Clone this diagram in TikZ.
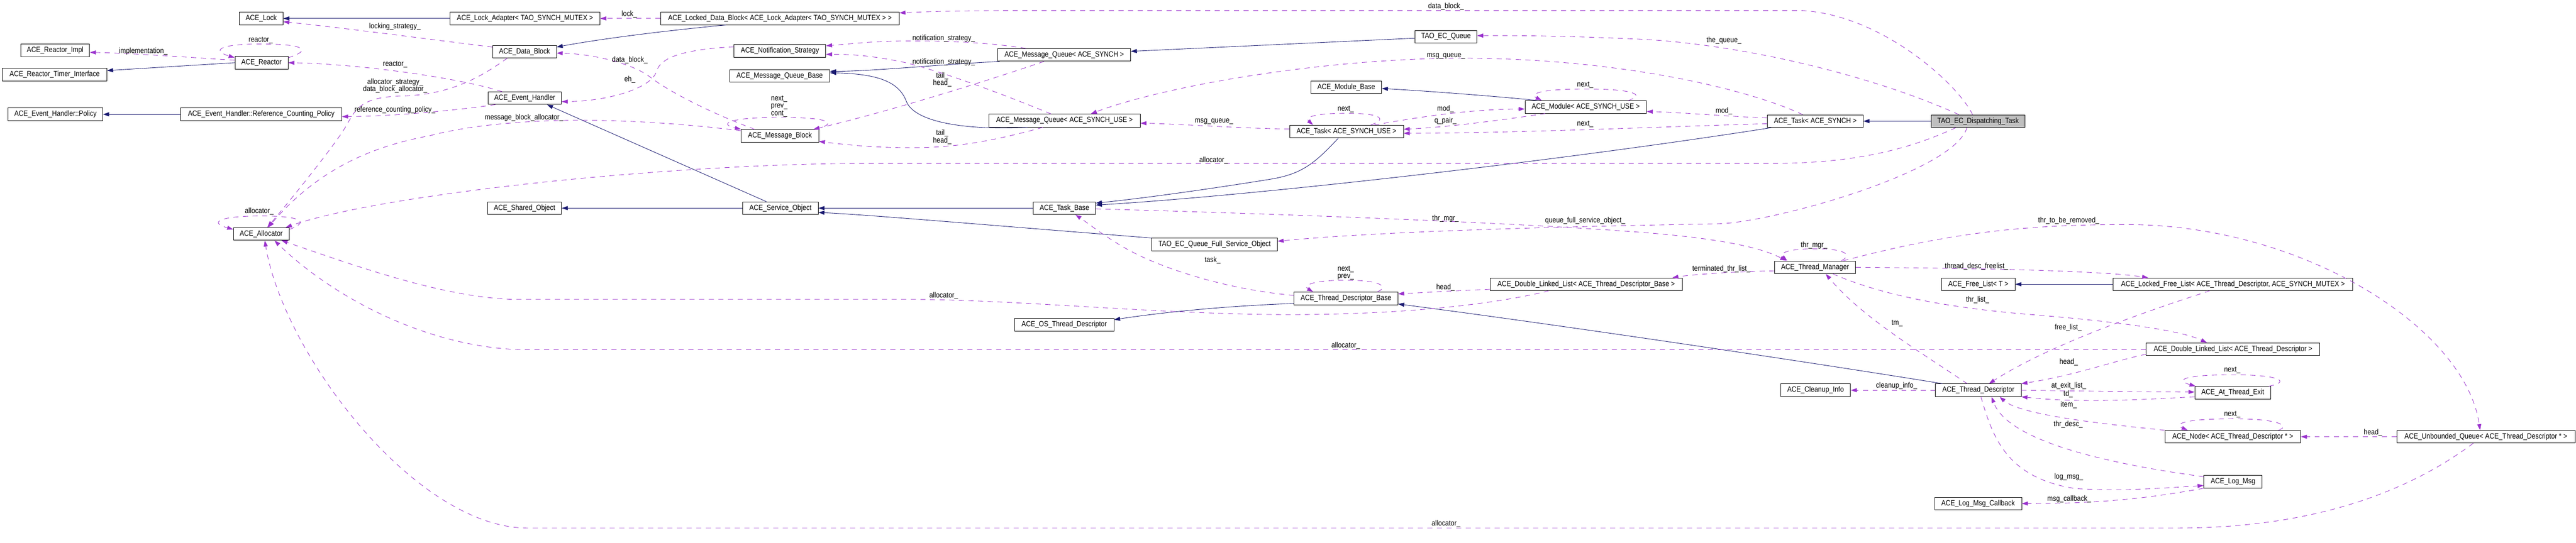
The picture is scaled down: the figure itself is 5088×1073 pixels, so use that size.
\documentclass[tikz,border=0pt]{standalone}
\usepackage{fontspec}
\setmainfont[FakeStretch=0.87]{Liberation Sans}
\usetikzlibrary{arrows.meta,calc}
\definecolor{inhcol}{HTML}{191970}
\definecolor{depcol}{HTML}{9A32CD}
\definecolor{grayfill}{HTML}{BFBFBF}
\newcommand{\dxfont}{\fontsize{15}{14.3}\selectfont}
\begin{document}
\begin{tikzpicture}[x=1pt,y=-1pt,
 cls/.style={draw=black,line width=0.9pt,minimum height=25pt,inner sep=0pt,font=\dxfont,fill=white},
 inh/.style={draw=inhcol,line width=0.9pt,-{Triangle[length=12pt,width=8pt]}},
 dep/.style={draw=depcol,line width=0.9pt,dash pattern=on 10pt off 9pt,-{Triangle[length=12pt,width=8pt]}},
 lbl/.style={inner sep=0pt,font=\dxfont,align=center}]
\useasboundingbox (0,0) rectangle (5088,1073);

% ---------- classes ----------
\node[cls,minimum width=86pt] (lock) at (516,36.5) {ACE\_Lock};
\node[cls,minimum width=136pt] (reactorimpl) at (109,99.5) {ACE\_Reactor\_Impl};
\node[cls,minimum width=105pt] (reactor) at (516.5,124) {ACE\_Reactor};
\node[cls,minimum width=206pt] (timerif) at (108,147.5) {ACE\_Reactor\_Timer\_Interface};
\node[cls,minimum width=187pt] (policy) at (109.5,226) {ACE\_Event\_Handler::Policy};
\node[cls,minimum width=318pt] (refpolicy) at (516,226) {ACE\_Event\_Handler::Reference\_Counting\_Policy};
\node[cls,minimum width=110pt] (allocator) at (516,462.5) {ACE\_Allocator};
\node[cls,minimum width=296pt] (lockadapter) at (1037,36.5) {ACE\_Lock\_Adapter< TAO\_SYNCH\_MUTEX >};
\node[cls,minimum width=471pt] (lockeddb) at (1540.5,36.5) {ACE\_Locked\_Data\_Block< ACE\_Lock\_Adapter< TAO\_SYNCH\_MUTEX > >};
\node[cls,minimum width=126pt] (datablock) at (1036,102) {ACE\_Data\_Block};
\node[cls,minimum width=181pt] (notif) at (1540.5,100.5) {ACE\_Notification\_Strategy};
\node[cls,minimum width=198pt] (mqbase) at (1540,150) {ACE\_Message\_Queue\_Base};
\node[cls,minimum width=145pt] (eh) at (1036.5,194) {ACE\_Event\_Handler};
\node[cls,minimum width=153pt] (mb) at (1540.5,268.5) {ACE\_Message\_Block};
\node[cls,minimum width=146pt] (sharedobj) at (1036,411.5) {ACE\_Shared\_Object};
\node[cls,minimum width=149pt] (serviceobj) at (1541.5,411.5) {ACE\_Service\_Object};
\node[cls,minimum width=262pt] (mqsynch) at (2102,108.5) {ACE\_Message\_Queue< ACE\_SYNCH >};
\node[cls,minimum width=299pt,minimum height=26pt] (mqsynchuse) at (2102.5,238.5) {ACE\_Message\_Queue< ACE\_SYNCH\_USE >};
\node[cls,minimum width=123pt] (taskbase) at (2102.5,411.5) {ACE\_Task\_Base};
\node[cls,minimum width=248pt] (qfso) at (2399,483.5) {TAO\_EC\_Queue\_Full\_Service\_Object};
\node[cls,minimum width=196pt] (osthreaddesc) at (2102,642) {ACE\_OS\_Thread\_Descriptor};
\node[cls,minimum width=122pt] (ecqueue) at (2856,72.5) {TAO\_EC\_Queue};
\node[cls,minimum width=140pt] (modulebase) at (2659,172.5) {ACE\_Module\_Base};
\node[cls,minimum width=240pt] (module) at (3132,211.5) {ACE\_Module< ACE\_SYNCH\_USE >};
\node[cls,minimum width=225pt] (tasksynchuse) at (2659.5,260) {ACE\_Task< ACE\_SYNCH\_USE >};
\node[cls,minimum width=205pt] (tdbase) at (2658.5,590) {ACE\_Thread\_Descriptor\_Base};
\node[cls,minimum width=380pt] (dllbase) at (3133,562) {ACE\_Double\_Linked\_List< ACE\_Thread\_Descriptor\_Base >};
\node[cls,minimum width=189pt] (tasksynch) at (3585.5,239.5) {ACE\_Task< ACE\_SYNCH >};
\node[cls,minimum width=186pt,fill=grayfill] (dispatch) at (3907,239.5) {TAO\_EC\_Dispatching\_Task};
\node[cls,minimum width=160pt] (thrmgr) at (3585,528.5) {ACE\_Thread\_Manager};
\node[cls,minimum width=145pt] (freelist) at (3907.5,562) {ACE\_Free\_List< T >};
\node[cls,minimum width=473pt] (lockedfree) at (4410.5,562) {ACE\_Locked\_Free\_List< ACE\_Thread\_Descriptor, ACE\_SYNCH\_MUTEX >};
\node[cls,minimum width=138pt] (cleanup) at (3586,771.5) {ACE\_Cleanup\_Info};
\node[cls,minimum width=169pt] (td) at (3907.5,771.5) {ACE\_Thread\_Descriptor};
\node[cls,minimum width=172pt] (logmsgcb) at (3907,995.5) {ACE\_Log\_Msg\_Callback};
\node[cls,minimum width=343pt] (dllthr) at (4410.5,690.5) {ACE\_Double\_Linked\_List< ACE\_Thread\_Descriptor >};
\node[cls,minimum width=150pt] (atexit) at (4410,776.5) {ACE\_At\_Thread\_Exit};
\node[cls,minimum width=268pt] (nodetd) at (4410,863.5) {ACE\_Node< ACE\_Thread\_Descriptor * >};
\node[cls,minimum width=352pt] (unbq) at (4910,863.5) {ACE\_Unbounded\_Queue< ACE\_Thread\_Descriptor * >};
\node[cls,minimum width=115pt] (logmsg) at (4410.5,952.5) {ACE\_Log\_Msg};

% ---------- inheritance ----------
\draw[inh] (reactor.west) -- ([yshift=8pt]timerif.east);
\draw[inh] (refpolicy.west) -- (policy.east);
\draw[inh] (lockadapter.west) -- (lock.east);
\draw[inh] ([xshift=-107pt]lockeddb.south) .. controls (1300,62) and (1180,78) .. ([yshift=9pt]datablock.east);
\draw[inh] ([xshift=4pt]mqsynch.south west) .. controls (1850,128) and (1720,141) .. ([yshift=9pt]mqbase.east);
\draw[inh] ([xshift=-73pt]mqsynchuse.south) .. controls (1900,258) and (1805,240) .. (1790,200) .. controls (1775,160) and (1730,146) .. ([yshift=6pt]mqbase.east);
\draw[inh] ([yshift=-3pt]ecqueue.west) -- ([yshift=7pt]mqsynch.east);
\draw[inh] (serviceobj.west) -- (sharedobj.east);
\draw[inh] ([xshift=-28pt]serviceobj.north) -- ([xshift=44pt]eh.south);
\draw[inh] (taskbase.west) -- (serviceobj.east);
\draw[inh] (qfso.north west) .. controls (1950,445) and (1720,425) .. ([yshift=-8.5pt]serviceobj.east);
\draw[inh] ([xshift=-16pt]tasksynchuse.south) .. controls (2595,325) and (2570,345) .. (2505,355) .. controls (2400,372) and (2260,392) .. ([yshift=10pt]taskbase.east);
\draw[inh] ([xshift=-87pt]tasksynch.south) .. controls (3100,315) and (2500,385) .. ([yshift=6pt]taskbase.east);
\draw[inh] ([xshift=-95pt]module.north) .. controls (2950,190) and (2820,180) .. ([yshift=-2.5pt]modulebase.east);
\draw[inh] (dispatch.west) -- (tasksynch.east);
\draw[inh] ([yshift=-10pt]tdbase.west) .. controls (2420,605) and (2300,617) .. ([yshift=10pt]osthreaddesc.east);
\draw[inh] ([xshift=-71pt]td.north) .. controls (3600,720) and (3100,645) .. ([yshift=-11pt]tdbase.east);
\draw[inh] (lockedfree.west) -- (freelist.east);

% ---------- usage ----------
\draw[dep] ([yshift=9pt]datablock.west) .. controls (880,82) and (680,55) .. ([yshift=-6.5pt]lock.east);
\draw[dep] ([yshift=-3pt]reactor.north east) .. controls (615,100) and (605,87) .. (516,87) .. controls (427,87) and (420,101) .. ([yshift=-3pt]reactor.north west);
\draw[dep] ([yshift=5pt]reactor.west) .. controls (380,114) and (260,105) .. ([yshift=-4pt]reactorimpl.east);
\draw[dep] ([xshift=-45pt]eh.north) .. controls (900,152) and (700,126) .. (reactor.east);
\draw[dep] ([xshift=-34pt]datablock.south) .. controls (940,160) and (880,188) .. (790,190) .. controls (705,192) and (700,223) .. (680,255) .. controls (655,295) and (570,400) .. ([xshift=12pt]allocator.north);
\draw[dep] ([yshift=-3pt]mb.north west) .. controls (1300,238) and (1150,234) .. (1040,241) .. controls (960,246) and (900,255) .. (850,268) .. controls (760,285) and (640,320) .. ([xshift=14pt]allocator.north);
\draw[dep] ([xshift=-44pt]dispatch.south) .. controls (3760,300) and (3650,323) .. (3500,323) -- (1700,323) .. controls (1300,325) and (750,385) .. ([xshift=-7pt]allocator.north east);
\draw[dep] ([yshift=-4pt]allocator.north east) .. controls (610,440) and (600,427) .. (516,427) .. controls (432,427) and (412,440) .. ([yshift=9pt]allocator.west);
\draw[dep] (lockeddb.west) -- (lockadapter.east);
\draw[dep] ([xshift=-11pt]dispatch.north) .. controls (3870,170) and (3720,30) .. (3560,21) -- (2000,21) .. controls (1900,21) and (1830,23) .. ([yshift=11pt]lockeddb.east);
\draw[dep] ([xshift=-50pt]mb.north) .. controls (1400,222) and (1320,180) .. (1285,153) .. controls (1245,122) and (1160,106) .. ([yshift=-3pt]datablock.east);
\draw[dep] ([yshift=8pt]notif.west) .. controls (1345,98) and (1305,115) .. (1297,140) .. controls (1288,175) and (1200,200) .. ([yshift=-7pt]eh.east);
\draw[dep] ([xshift=-58pt]eh.south) .. controls (900,218) and (780,230) .. ([yshift=-4.5pt]refpolicy.east);
\draw[dep] ([xshift=-8pt]mb.north east) .. controls (1655,245) and (1645,232) .. (1540,232) .. controls (1435,232) and (1420,246) .. (mb.north west);
\draw[dep] ([xshift=-76pt]mqsynch.north) .. controls (1950,84) and (1880,81) .. (1800,81) .. controls (1720,81) and (1680,87) .. ([yshift=10pt]notif.east);
\draw[dep] ([xshift=-27pt]mqsynchuse.north) .. controls (1990,190) and (1860,140) .. (1780,122) .. controls (1720,110) and (1680,107) .. ([yshift=-7pt]notif.east);
\draw[dep] ([xshift=-40pt]mqsynch.south) .. controls (1950,160) and (1750,222) .. ([xshift=66pt]mb.north);
\draw[dep] ([xshift=-43pt]mqsynchuse.south) .. controls (1950,282) and (1880,292) .. (1800,292) .. controls (1720,292) and (1660,285) .. ([yshift=-11pt]mb.east);
\draw[dep] ([yshift=5pt]tasksynchuse.west) .. controls (2450,254) and (2330,245) .. ([yshift=-5pt]mqsynchuse.east);
\draw[dep] ([xshift=-25pt]tasksynch.north) .. controls (3450,175) and (3200,117) .. (2900,115) .. controls (2620,114) and (2300,170) .. ([xshift=52pt]mqsynchuse.north);
\draw[dep] ([xshift=-38pt]dispatch.north) .. controls (3700,150) and (3450,90) .. (3250,78) .. controls (3100,71) and (3000,70) .. ([yshift=2pt]ecqueue.east);
\draw[dep] ([xshift=48pt]tasksynchuse.north) .. controls (2740,236) and (2730,224) .. (2660,224) .. controls (2590,224) and (2578,233) .. ([xshift=-66pt]tasksynchuse.north);
\draw[dep] ([xshift=55pt]tasksynchuse.north) .. controls (2800,232) and (2900,216) .. ([yshift=-4pt]module.west);
\draw[dep] ([xshift=-80pt]module.south) .. controls (2950,240) and (2850,252) .. ([yshift=4.5pt]tasksynchuse.east);
\draw[dep] ([yshift=-5pt]tasksynch.west) .. controls (3300,250) and (3000,263) .. ([yshift=-3.5pt]tasksynchuse.east);
\draw[dep] ([yshift=6.5pt]tasksynch.west) .. controls (3420,231) and (3320,222) .. ([yshift=-9pt]module.east);
\draw[dep] ([xshift=84pt]module.north) .. controls (3250,188) and (3230,176) .. (3132,176) .. controls (3034,176) and (3022,187) .. ([xshift=-87pt]module.north);
\draw[dep] ([yshift=-1.5pt]taskbase.east) .. controls (2500,422) and (3000,440) .. (3250,460) .. controls (3400,472) and (3480,490) .. ([xshift=-57pt]thrmgr.north);
\draw[dep] ([xshift=-22pt]dispatch.south) .. controls (3860,340) and (3500,440.5) .. (3392,442.5) .. controls (3150,447) and (2750,455) .. ([yshift=6.5pt]qfso.east);
\draw[dep] ([xshift=-74pt]dllbase.south) .. controls (2960,600) and (2780,622) .. (2546,622) .. controls (2300,622) and (2000,592) .. (1800,592) -- (1020,592) .. controls (880,590) and (700,525) .. ([xshift=40pt]allocator.south);
\draw[dep] ([yshift=-1pt]dllthr.west) -- (1040,691.5) .. controls (850,690) and (660,590) .. ([xshift=26pt]allocator.south);
\draw[dep] ([xshift=-25pt]unbq.south) .. controls (4780,955) and (4600,1044) .. (4300,1044) -- (1040,1044) .. controls (820,1042) and (560,700) .. ([xshift=7pt]allocator.south);
\draw[dep] ([xshift=62pt]tdbase.north) .. controls (2742,568) and (2732,554) .. (2658,554) .. controls (2585,554) and (2575,566) .. ([xshift=-65pt]tdbase.north);
\draw[dep] ([yshift=6pt]tdbase.west) .. controls (2420,572) and (2300,531) .. (2238,499) .. controls (2190,474) and (2150,442) .. ([xshift=21.5pt]taskbase.south);
\draw[dep] ([yshift=-10pt]dllbase.west) .. controls (2870,575) and (2820,578) .. ([yshift=9pt]tdbase.east);
\draw[dep] ([xshift=52pt]thrmgr.north) .. controls (3657,505) and (3650,492) .. (3585,492) .. controls (3522,492) and (3515,503) .. ([xshift=-55pt]thrmgr.north);
\draw[dep] ([xshift=56pt]thrmgr.north) .. controls (3850,460) and (4000,444) .. (4200,444) .. controls (4550,444) and (4870,650) .. ([xshift=-11.5pt]unbq.north);
\draw[dep] (thrmgr.east) .. controls (3900,530) and (4150,535) .. ([xshift=-167.5pt]lockedfree.north);
\draw[dep] ([yshift=-7pt]thrmgr.west) .. controls (3420,537) and (3340,543) .. ([xshift=170pt]dllbase.north);
\draw[dep] ([xshift=35pt]thrmgr.south) .. controls (3720,585) and (3850,608) .. (4000,621) .. controls (4150,633) and (4300,650) .. ([xshift=-51.5pt]dllthr.north);
\draw[dep] ([xshift=-22pt]td.north) .. controls (3800,700) and (3680,630) .. ([xshift=21pt]thrmgr.south);
\draw[dep] ([xshift=-46pt]lockedfree.south) .. controls (4250,612) and (4050,680) .. ([xshift=21pt]td.north);
\draw[dep] ([yshift=-10pt]dllthr.west) .. controls (4180,712) and (4100,742) .. (td.north east);
\draw[dep] (td.east) .. controls (4100,773) and (4250,775) .. ([yshift=1.5pt]atexit.west);
\draw[dep] ([yshift=-8pt]atexit.west) .. controls (4200,792) and (4100,796) .. (td.south east);
\draw[dep] ([xshift=-4pt]atexit.north east) .. controls (4522,756) and (4510,741) .. (4410,741) .. controls (4310,741) and (4296,752) .. ([xshift=2pt]atexit.north west);
\draw[dep] (nodetd.north west) .. controls (4150,838) and (3990,820) .. ([xshift=42pt]td.south);
\draw[dep] ([xshift=90pt]nodetd.north) .. controls (4522,844) and (4510,828) .. (4410,828) .. controls (4305,828) and (4295,840) .. ([xshift=-89pt]nodetd.north);
\draw[dep] (unbq.west) -- (nodetd.east);
\draw[dep] ([yshift=-3pt]logmsg.north west) .. controls (4150,915) and (3965,870) .. ([xshift=26pt]td.south);
\draw[dep] ([xshift=5pt]td.south) .. controls (3935,860) and (3960,945) .. (4100,966) .. controls (4200,972) and (4300,963) .. ([yshift=-7.5pt]logmsg.west);
\draw[dep] (logmsg.south west) .. controls (4280,978) and (4180,996) .. (logmsgcb.east);
\draw[dep] (td.west) -- (cleanup.east);

% ---------- labels ----------
\node[lbl] (t1) at (780,53) {locking\_strategy\_};
\node[lbl] (t2) at (515,80) {reactor\_};
\node[lbl] (t3) at (283,101) {implementation\_};
\node[lbl] (t4) at (780.5,127) {reactor\_};
\node[lbl] (t5) at (780.5,169.6) {allocator\_strategy\_\\data\_block\_allocator\_};
\node[lbl] (t6) at (780,217) {reference\_counting\_policy\_};
\node[lbl] (t7) at (512,418) {allocator\_};
\node[lbl] (t8) at (1243,28.6) {lock\_};
\node[lbl] (t9) at (1244,119) {data\_block\_};
\node[lbl] (t10) at (1244,157) {eh\_};
\node[lbl] (t11) at (1539,210.3) {next\_\\prev\_\\cont\_};
\node[lbl] (t12) at (1035,233) {message\_block\_allocator\_};
\node[lbl] (t13) at (1864,76) {notification\_strategy\_};
\node[lbl] (t14) at (1864,123) {notification\_strategy\_};
\node[lbl] (t15) at (1861,157.5) {tail\_\\head\_};
\node[lbl] (t16) at (1861,270.8) {tail\_\\head\_};
\node[lbl] (t17) at (2398,240) {msg\_queue\_};
\node[lbl] (t18) at (2397,317) {allocator\_};
\node[lbl] (t19) at (2395,515) {task\_};
\node[lbl] (t20) at (2856,13) {data\_block\_};
\node[lbl] (t21) at (2856,111) {msg\_queue\_};
\node[lbl] (t22) at (2658,216) {next\_};
\node[lbl] (t23) at (2855,215) {mod\_};
\node[lbl] (t24) at (2855,238.6) {q\_pair\_};
\node[lbl] (t25) at (3131,168) {next\_};
\node[lbl] (t26) at (3131,245) {next\_};
\node[lbl] (t27) at (3405,219) {mod\_};
\node[lbl] (t28) at (3405,80) {the\_queue\_};
\node[lbl] (t29) at (2855,432) {thr\_mgr\_};
\node[lbl] (t30) at (3131,436) {queue\_full\_service\_object\_};
\node[lbl] (t31) at (2658,539.4) {next\_\\prev\_};
\node[lbl] (t32) at (3400,531.5) {terminated\_thr\_list\_};
\node[lbl] (t33) at (2855,568) {head\_};
\node[lbl] (t34) at (1864,585) {allocator\_};
\node[lbl] (t35) at (2658,683) {allocator\_};
\node[lbl] (t36) at (2856,1036) {allocator\_};
\node[lbl] (t37) at (3583,485) {thr\_mgr\_};
\node[lbl] (t38) at (4086,436) {thr\_to\_be\_removed\_};
\node[lbl] (t39) at (3904,527) {thread\_desc\_freelist\_};
\node[lbl] (t40) at (3906,593) {thr\_list\_};
\node[lbl] (t41) at (3747,639) {tm\_};
\node[lbl] (t42) at (4085,648) {free\_list\_};
\node[lbl] (t43) at (4086,715.5) {head\_};
\node[lbl] (t44) at (3746,763) {cleanup\_info\_};
\node[lbl] (t45) at (4086,763) {at\_exit\_list\_};
\node[lbl] (t46) at (4085,779) {td\_};
\node[lbl] (t47) at (4086,800) {item\_};
\node[lbl] (t48) at (4085,839.5) {thr\_desc\_};
\node[lbl] (t49) at (4086,943) {log\_msg\_};
\node[lbl] (t50) at (4087,987) {msg\_callback\_};
\node[lbl] (t51) at (4409,732) {next\_};
\node[lbl] (t52) at (4409,819) {next\_};
\node[lbl] (t53) at (4687,855) {head\_};
\end{tikzpicture}
\end{document}
